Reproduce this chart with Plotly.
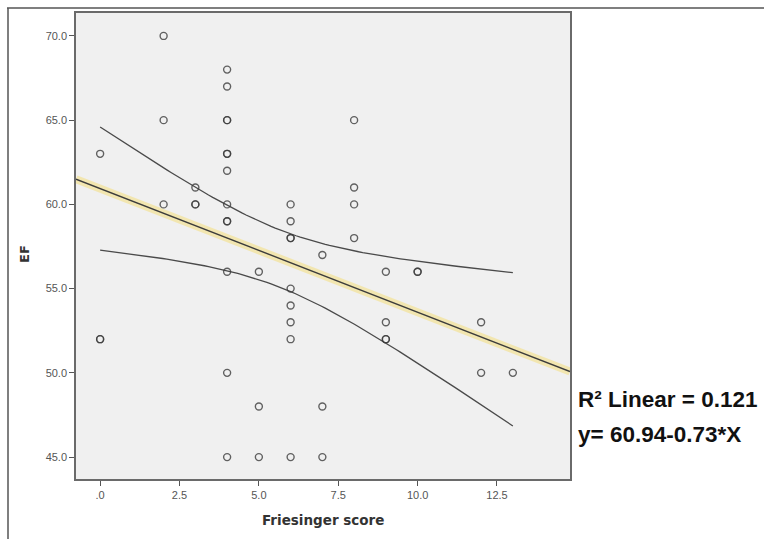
import numpy as np
import plotly.graph_objects as go

# Data
friesinger = [0, 0, 0,
              2, 2, 2,
              3, 3, 3,
              4, 4, 4, 4, 4, 4, 4, 4, 4, 4, 4, 4, 4,
              5, 5, 5,
              6, 6, 6, 6, 6, 6, 6, 6, 6,
              7, 7, 7,
              8, 8, 8, 8,
              9, 9, 9, 9,
              10, 10,
              12, 12,
              13]
ef = [63, 52, 52,
      70, 65, 60,
      61, 60, 60,
      68, 67, 65, 65, 63, 63, 62, 60, 59, 59, 56, 50, 45,
      56, 48, 45,
      60, 59, 58, 58, 55, 54, 53, 52, 45,
      57, 48, 45,
      65, 61, 60, 58,
      56, 53, 52, 52,
      56, 56,
      53, 50,
      50]

x_ticks = [0, 2.5, 5.0, 7.5, 10.0, 12.5]
x_ticklabels = [".0", "2.5", "5.0", "7.5", "10.0", "12.5"]
y_ticks = [45, 50, 55, 60, 65, 70]
y_ticklabels = ["45.0", "50.0", "55.0", "60.0", "65.0", "70.0"]
x_range = [-0.76, 14.8]
y_range = [43.7, 71.36]

x = np.array(friesinger, dtype=float)
y = np.array(ef, dtype=float)
n = len(x)
slope, intercept = np.polyfit(x, y, 1)
xbar = x.mean()
sxx = ((x - xbar) ** 2).sum()
resid = y - (intercept + slope * x)
s = np.sqrt((resid ** 2).sum() / (n - 2))
t_crit = 2.0106  # t(0.975, 48)

xc = np.linspace(x.min(), x.max(), 100)
yc = intercept + slope * xc
hw = t_crit * s * np.sqrt(1 / n + (xc - xbar) ** 2 / sxx)

xl = np.array(x_range)
yl = intercept + slope * xl

fig = go.Figure()
fig.add_trace(go.Scatter(x=xl, y=yl, mode="lines",
                         line=dict(color="rgba(243,228,160,0.8)", width=8),
                         hoverinfo="skip", showlegend=False))
fig.add_trace(go.Scatter(x=xl, y=yl, mode="lines",
                         line=dict(color="#3c3c3c", width=1.4), showlegend=False))
fig.add_trace(go.Scatter(x=xc, y=yc + hw, mode="lines",
                         line=dict(color="#4a4a4a", width=1.3), showlegend=False))
fig.add_trace(go.Scatter(x=xc, y=yc - hw, mode="lines",
                         line=dict(color="#4a4a4a", width=1.3), showlegend=False))
fig.add_trace(go.Scatter(x=friesinger, y=ef, mode="markers",
                         marker=dict(symbol="circle-open", size=7,
                                     color="rgba(60,60,60,0.8)",
                                     line=dict(width=1.4)),
                         showlegend=False))

W, H = 764, 539
L, R, T, B = 76, 570, 11, 479
pw, ph = R - L, B - T

def px(xp):
    return (xp - L) / pw

def py(yp):
    return (B - yp) / ph

axis_common = dict(showgrid=False, zeroline=False, showline=True, mirror=True,
                   linecolor="#6a6a6a", linewidth=1.5, ticks="outside",
                   ticklen=5, tickcolor="#555", tickwidth=1.2,
                   tickfont=dict(family="Liberation Sans", size=11, color="#555"))

fig.update_layout(
    width=W, height=H,
    margin=dict(l=L, r=W - R, t=T, b=H - B),
    plot_bgcolor="#f0f0f0", paper_bgcolor="white",
    xaxis=dict(range=x_range, tickvals=x_ticks, ticktext=x_ticklabels, **axis_common),
    yaxis=dict(range=y_range, tickvals=y_ticks, ticktext=y_ticklabels, **axis_common),
    shapes=[
        dict(type="line", xref="paper", yref="paper", layer="above",
             x0=px(7), x1=px(770), y0=py(6), y1=py(6),
             line=dict(color="#555", width=1.5)),
        dict(type="line", xref="paper", yref="paper", layer="above",
             x0=px(8), x1=px(8), y0=py(6), y1=py(545),
             line=dict(color="#555", width=1.5)),
    ],
    annotations=[
        dict(text="<b>R² Linear = 0.121</b>", xref="paper", yref="paper",
             x=px(576), y=py(399), xanchor="left", yanchor="middle", showarrow=False,
             font=dict(family="Liberation Sans", size=22.5, color="#111")),
        dict(text="<b>y= 60.94-0.73*X</b>", xref="paper", yref="paper",
             x=px(576), y=py(434), xanchor="left", yanchor="middle", showarrow=False,
             font=dict(family="Liberation Sans", size=22.5, color="#111")),
        dict(text="<b>EF</b>", xref="paper", yref="paper", textangle=-90,
             x=px(25), y=py(253), xanchor="center", yanchor="middle", showarrow=False,
             font=dict(family="DejaVu Sans", size=13, color="#333")),
        dict(text="<b>Friesinger score</b>", xref="paper", yref="paper",
             x=px(323), y=py(520), xanchor="center", yanchor="middle", showarrow=False,
             font=dict(family="DejaVu Sans", size=13.5, color="#333")),
    ],
)

fig.write_html("out.html", config={"displayModeBar": False},
               post_script="document.body.style.margin='0';document.body.style.overflow='hidden';"
                           "window.scrollTo(0,0);")
